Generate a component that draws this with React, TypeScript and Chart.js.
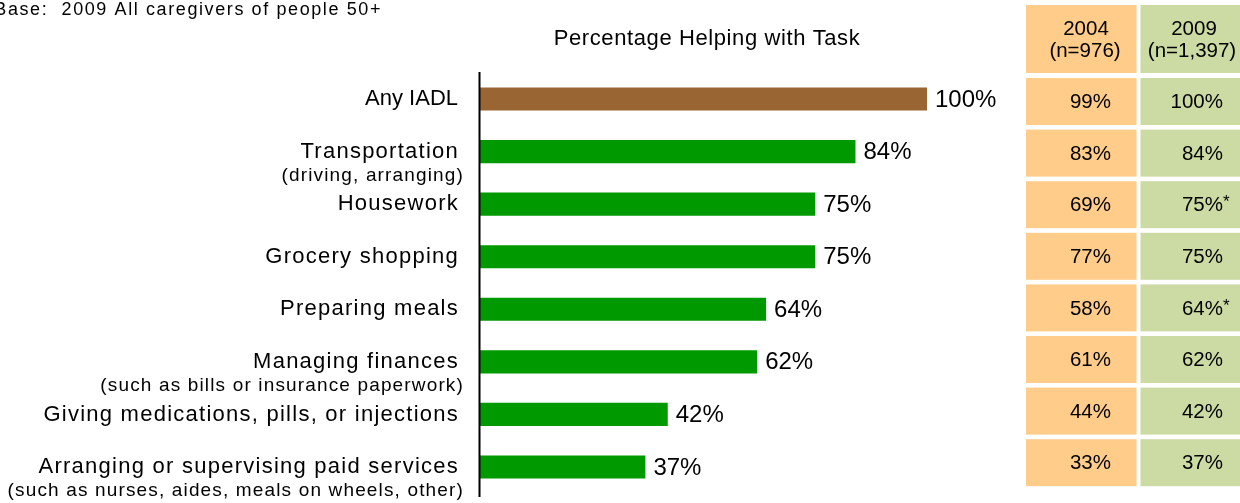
import React, { useEffect, useRef } from "react";
import { Chart, registerables } from "chart.js";

Chart.register(...registerables);

// ---- data ----
const categories = [
  "Any IADL",
  "Transportation",
  "Housework",
  "Grocery shopping",
  "Preparing meals",
  "Managing finances",
  "Giving medications, pills, or injections",
  "Arranging or supervising paid services",
];
const subLabels = [
  "",
  "(driving, arranging)",
  "",
  "",
  "",
  "(such as bills or insurance paperwork)",
  "",
  "(such as nurses, aides, meals on wheels, other)",
];
const values2009 = [100, 84, 75, 75, 64, 62, 42, 37];
const values2004 = [99, 83, 69, 77, 58, 61, 44, 33];
const significant2009 = [false, false, true, false, true, false, false, false];
const header2004 = ["2004", "(n=976)"];
const header2009 = ["2009", "(n=1,397)"];
const chartTitle = "Percentage Helping with Task";
const baseNote = "Base:  2009 All caregivers of people 50+";

// ---- styles ----
const FONT = '"Liberation Sans", Arial, Helvetica, sans-serif';
const BROWN = "#996633";
const GREEN = "#009900";
const ORANGE_CELL = "#FFCC8A";
const GREEN_CELL = "#CCDBA3";
const TEXT = "#000000";

const W = 1240;
const H = 503;

const overlayPlugin = {
  id: "overlay",
  afterDraw(chart: any) {
    const ctx: CanvasRenderingContext2D = chart.ctx;
    const x = chart.scales.x;
    const y = chart.scales.y;
    const area = chart.chartArea;
    ctx.save();
    ctx.fillStyle = TEXT;

    // base note
    ctx.font = `18px ${FONT}`;
    (ctx as any).letterSpacing = "1.6px";
    ctx.textAlign = "right";
    ctx.textBaseline = "alphabetic";
    ctx.fillText(baseNote, 382, 15);

    // title
    ctx.font = `22px ${FONT}`;
    (ctx as any).letterSpacing = "0.6px";
    ctx.textAlign = "center";
    ctx.fillText(chartTitle, 707, 45);

    // axis line
    ctx.fillRect(area.left - 1.5, 72, 2, 425);

    // category labels
    categories.forEach((c, i) => {
      const cy = y.getPixelForValue(i);
      ctx.textAlign = "right";
      ctx.textBaseline = "middle";
      ctx.font = `22px ${FONT}`;
      (ctx as any).letterSpacing = i === 0 ? "0px" : "1.25px";
      ctx.fillText(c, i === 0 ? 458 : 459, cy);
      if (subLabels[i]) {
        ctx.font = `19px ${FONT}`;
        (ctx as any).letterSpacing = "1.15px";
        ctx.fillText(subLabels[i], 464, cy + 24);
      }
    });

    // value labels
    (ctx as any).letterSpacing = "0px";
    ctx.font = `24px ${FONT}`;
    ctx.textAlign = "left";
    ctx.textBaseline = "middle";
    values2009.forEach((v, i) => {
      const cy = y.getPixelForValue(i);
      ctx.fillText(`${v}%`, x.getPixelForValue(v) + 8, cy + 1);
    });

    // table
    const c1x = 1026, c1w = 110.5;
    const c2x = 1140.5, c2w = W - 1140.5;
    ctx.fillStyle = ORANGE_CELL;
    ctx.fillRect(c1x, 5, c1w, 68);
    ctx.fillStyle = GREEN_CELL;
    ctx.fillRect(c2x, 5, c2w, 68);
    ctx.fillStyle = TEXT;
    ctx.font = `20.5px ${FONT}`;
    ctx.textAlign = "center";
    ctx.textBaseline = "alphabetic";
    ctx.fillText(header2004[0], 1086, 35);
    ctx.fillText(header2004[1], 1085, 57);
    ctx.fillText(header2009[0], 1194, 35);
    ctx.fillText(header2009[1], 1192, 57);

    const rowTop = 78;
    const pitch = 51.6;
    const rowH = 47;
    values2004.forEach((v, i) => {
      const top = rowTop + i * pitch;
      ctx.fillStyle = ORANGE_CELL;
      ctx.fillRect(c1x, top, c1w, rowH);
      ctx.fillStyle = GREEN_CELL;
      ctx.fillRect(c2x, top, c2w, rowH);
      ctx.fillStyle = TEXT;
      ctx.font = `20.5px ${FONT}`;
      ctx.textAlign = "right";
      ctx.textBaseline = "middle";
      const cy = top + rowH / 2 + 1;
      ctx.fillText(`${v}%`, 1111, cy);
      ctx.fillText(`${values2009[i]}%`, 1223, cy);
      if (significant2009[i]) {
        ctx.textAlign = "left";
        ctx.font = `17px ${FONT}`;
        ctx.fillText("*", 1223, cy - 3);
      }
    });

    ctx.restore();
  },
};

export default function App() {
  const ref = useRef<HTMLCanvasElement | null>(null);

  useEffect(() => {
    document.body.style.margin = "0";
    const canvas = ref.current;
    if (!canvas) return;
    const chart = new Chart(canvas, {
      type: "bar",
      data: {
        labels: categories,
        datasets: [
          {
            data: values2009,
            backgroundColor: categories.map((_, i) => (i === 0 ? BROWN : GREEN)),
            borderWidth: 0,
            barPercentage: 0.44,
            categoryPercentage: 1,
          },
        ],
      },
      options: {
        indexAxis: "y",
        responsive: false,
        animation: false,
        devicePixelRatio: 1,
        layout: { padding: { left: 480, right: 313, top: 72.7, bottom: 9.7 } },
        scales: {
          x: { display: false, min: 0, max: 100 },
          y: { display: false },
        },
        plugins: {
          legend: { display: false },
          tooltip: { enabled: false },
          title: { display: false },
        },
      },
      plugins: [overlayPlugin],
    });
    return () => chart.destroy();
  }, []);

  return (
    <div style={{ position: "absolute", left: 0, top: 0, width: W, height: H, background: "#fff" }}>
      <canvas ref={ref} width={W} height={H} style={{ width: W, height: H, display: "block" }} />
    </div>
  );
}
